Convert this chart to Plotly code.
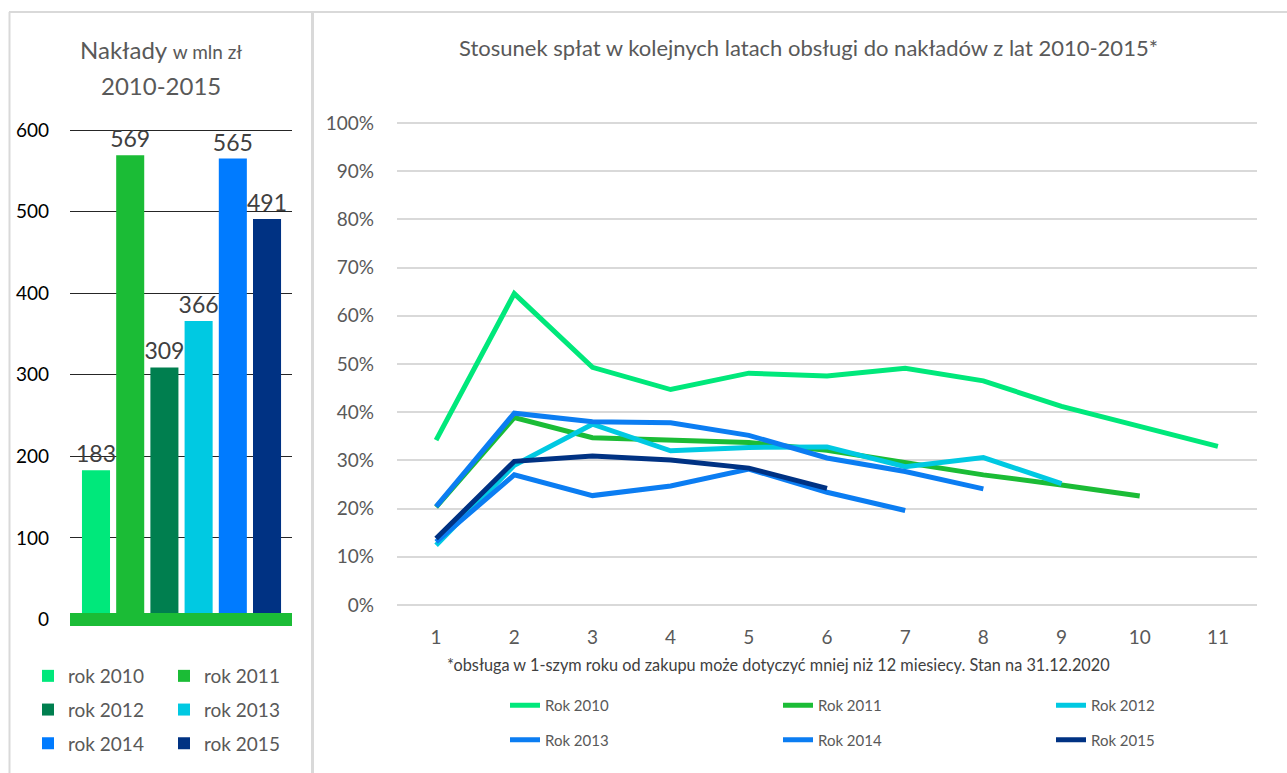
import plotly.graph_objects as go

# Nakłady w mln zł, 2010-2015
bar_years = ["2010", "2011", "2012", "2013", "2014", "2015"]
outlays = [183, 569, 309, 366, 565, 491]
bar_names = ["rok 2010", "rok 2011", "rok 2012", "rok 2013", "rok 2014", "rok 2015"]

# Stosunek spłat w kolejnych latach obsługi (w %)
service_years = [1, 2, 3, 4, 5, 6, 7, 8, 9, 10, 11]
ratio_2010 = [34.2, 64.6, 49.3, 44.7, 48.1, 47.5, 49.1, 46.5, 41.2, 37.0, 32.9]
ratio_2011 = [20.3, 38.9, 34.7, 34.2, 33.7, 32.1, 29.5, 27.0, 24.9, 22.6]
ratio_2012 = [12.4, 29.0, 37.5, 32.0, 32.7, 32.8, 28.7, 30.6, 25.2]
ratio_2013 = [20.4, 39.8, 38.0, 37.8, 35.2, 30.5, 27.7, 24.1]
ratio_2014 = [13.1, 27.0, 22.7, 24.7, 28.2, 23.4, 19.6]
ratio_2015 = [13.8, 29.8, 30.9, 30.1, 28.4, 24.2]
line_names = ["Rok 2010", "Rok 2011", "Rok 2012", "Rok 2013", "Rok 2014", "Rok 2015"]
pct_ticks = [0, 10, 20, 30, 40, 50, 60, 70, 80, 90, 100]

W, H = 1287, 773
FONT = "Lato, 'Open Sans', sans-serif"
GREY_TXT = "#595959"

bar_colors = ["#00E87B", "#1BBC36", "#007F4F", "#00C9E2", "#007BFF", "#003283"]
line_colors = ["#00E87B", "#1BBC36", "#00C9E2", "#0B7DF2", "#0B7DF2", "#003283"]


def px_x(p):
    return p / W


def px_y(p):
    return 1 - p / H


fig = go.Figure()

# --- left panel: bars ---
bar_legends = ["legend", "legend2"]
for i, (yr, val) in enumerate(zip(bar_years, outlays)):
    fig.add_trace(go.Bar(
        x=[yr], y=[val], width=0.82,
        name=bar_names[i],
        marker=dict(color=bar_colors[i], line=dict(width=0)),
        text=[str(val)], textposition="outside", cliponaxis=False,
        constraintext="none",
        textfont=dict(size=23, color="#404040", family=FONT),
        legend=bar_legends[i % 2], legendgroup=f"b{i}",
        xaxis="x", yaxis="y", hoverinfo="skip",
    ))

# --- right panel: lines ---
ratios = [ratio_2010, ratio_2011, ratio_2012, ratio_2013, ratio_2014, ratio_2015]
line_legends = ["legend3", "legend4", "legend5"]
for i, vals in enumerate(ratios):
    fig.add_trace(go.Scatter(
        x=service_years[:len(vals)], y=vals, mode="lines",
        name=line_names[i],
        line=dict(color=line_colors[i], width=5),
        legend=line_legends[i % 3], legendgroup=f"l{i}",
        xaxis="x2", yaxis="y2", hoverinfo="skip",
    ))

leg_common = dict(
    orientation="v", bgcolor="rgba(0,0,0,0)", borderwidth=0,
    xanchor="left", yanchor="top", itemclick=False,
)
bar_leg_font = dict(size=19, color=GREY_TXT, family=FONT)
line_leg_font = dict(size=15, color=GREY_TXT, family=FONT)

fig.update_layout(
    width=W, height=H,
    margin=dict(l=0, r=0, t=0, b=0, autoexpand=False),
    paper_bgcolor="white", plot_bgcolor="white",
    barmode="overlay",
    font=dict(family=FONT, color=GREY_TXT),
    hovermode=False,
    xaxis=dict(
        domain=[px_x(70), px_x(292)], range=[-0.76, 5.73],
        type="category", showticklabels=False, showgrid=False,
        zeroline=False, showline=False, fixedrange=True,
    ),
    yaxis=dict(
        domain=[px_y(635.8), px_y(113.7)], range=[-20, 620],
        tickvals=[0, 100, 200, 300, 400, 500, 600],
        showgrid=True, gridcolor="#262626", gridwidth=1,
        zeroline=False, showline=False, ticks="",
        ticklabelstandoff=20,
        tickfont=dict(size=19, color="#000000", family=FONT),
        fixedrange=True,
    ),
    xaxis2=dict(
        domain=[px_x(397), px_x(1257)], range=[0.5, 11.5],
        tickvals=service_years, showgrid=False, zeroline=False,
        showline=False, ticks="", anchor="y2",
        ticklabelstandoff=14,
        tickfont=dict(size=19, color=GREY_TXT, family=FONT),
        fixedrange=True,
    ),
    yaxis2=dict(
        domain=[px_y(609.82), px_y(118.18)], range=[-1, 101],
        tickvals=pct_ticks, ticktext=[f"{v}%" for v in pct_ticks],
        anchor="x2",
        showgrid=True, gridcolor="#D9D9D9", gridwidth=1.5,
        zeroline=False, showline=False, ticks="",
        ticklabelstandoff=22,
        tickfont=dict(size=19, color=GREY_TXT, family=FONT),
        fixedrange=True,
    ),
    legend=dict(**leg_common, x=px_x(28), y=px_y(657), font=bar_leg_font,
                tracegroupgap=6),
    legend2=dict(**leg_common, x=px_x(164), y=px_y(657), font=bar_leg_font,
                 tracegroupgap=6),
    legend3=dict(**leg_common, x=px_x(505), y=px_y(689), font=line_leg_font,
                 tracegroupgap=12),
    legend4=dict(**leg_common, x=px_x(778), y=px_y(689), font=line_leg_font,
                 tracegroupgap=12),
    legend5=dict(**leg_common, x=px_x(1051), y=px_y(689), font=line_leg_font,
                 tracegroupgap=12),
)

# panel titles and footnote
ann_common = dict(xref="paper", yref="paper", showarrow=False,
                  xanchor="center", yanchor="middle")
fig.add_annotation(
    x=px_x(161), y=px_y(50), **ann_common,
    text="Nakłady <span style='font-size:19px'>w mln zł</span>",
    font=dict(size=24, color=GREY_TXT, family=FONT),
)
fig.add_annotation(
    x=px_x(161), y=px_y(85), **ann_common,
    text="2010-2015", font=dict(size=24, color=GREY_TXT, family=FONT),
)
fig.add_annotation(
    x=px_x(808), y=px_y(47), **ann_common,
    text="Stosunek spłat w kolejnych latach obsługi do nakładów z lat 2010-2015*",
    font=dict(size=22, color=GREY_TXT, family=FONT),
)
fig.add_annotation(
    x=px_x(778), y=px_y(664), **ann_common,
    text="*obsługa w 1-szym roku od zakupu może dotyczyć mniej niż 12 miesiecy. Stan na 31.12.2020",
    font=dict(size=16.3, color="#404040", family=FONT),
)

# green base band under the bars
fig.add_shape(type="rect", xref="x domain", yref="y", x0=0, x1=1, y0=-8, y1=8,
              fillcolor="#1BBC36", line=dict(width=0), layer="above")

# panel borders
border = dict(color="#D9D9D9", width=2)
fig.add_shape(type="line", xref="paper", yref="paper",
              x0=px_x(9), x1=1, y0=px_y(12), y1=px_y(12), line=border)
fig.add_shape(type="line", xref="paper", yref="paper",
              x0=px_x(9.5), x1=px_x(9.5), y0=px_y(12), y1=0, line=border)
fig.add_shape(type="line", xref="paper", yref="paper",
              x0=px_x(312.5), x1=px_x(312.5), y0=px_y(12), y1=0,
              line=dict(color="#D9D9D9", width=3))

fig.write_html("out.html", config={"displayModeBar": False},
               post_script="document.body.style.margin='0px';")
